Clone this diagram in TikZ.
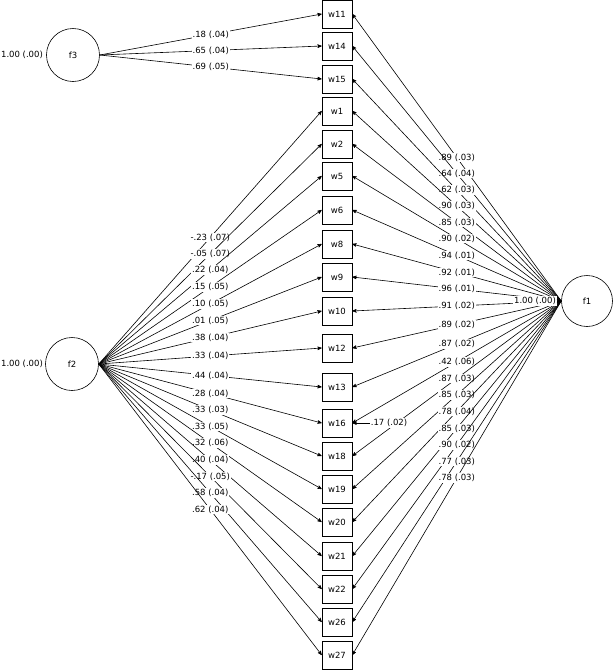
\documentclass[tikz,border=0pt]{standalone}
\usepackage{fontspec}
\setmainfont{DejaVu Sans}
\usepackage{tikz}
\usetikzlibrary{shapes}
\usetikzlibrary{arrows}
\tikzset{
  factor node/.style={circle,draw,minimum size=53pt,inner sep=0pt,font=\fontsize{8.5}{10}\selectfont},
  item node/.style={rectangle,draw,minimum width=30pt,minimum height=28pt,inner sep=0pt,font=\fontsize{8.5}{10}\selectfont},
  est/.style={fill=white,inner sep=1pt,font=\fontsize{8.5}{10}\selectfont}
}

\begin{document}
\begin{tikzpicture}[->,>=stealth',semithick,x=1pt,y=-1pt]
    \useasboundingbox (0,0) rectangle (615,670);
    \node [factor node] (f3) at (73,55) {f3};
    \node [factor node] (f2) at (72,364) {f2};
    \node [factor node,minimum size=51pt] (f1) at (587,301) {f1};
    \node [est] (f3var) at (22,55) {1.00 (.00)};
    \node [est] (f2var) at (22,364) {1.00 (.00)};
    % indicators
    \foreach \w/\y in {11/14,14/46,15/79,1/111,2/144,5/176,6/210,8/244,9/277,10/311,
                       12/348,13/387,16/423,18/456,19/489,20/522,21/556,22/589,26/622,27/655}
      \node [item node] (w\w) at (337,\y) {w\w};
    % f3 loadings
    \foreach \w/\lab in {11/.18 (.04),14/.65 (.04),15/.69 (.05)}
      \draw (f3.east) -- node [est] {\lab} (w\w.west);
    % f2 loadings
    \foreach \w/\lab in {1/-.23 (.07),2/-.05 (.07),5/.22 (.04),6/.15 (.05),8/.10 (.05),
                         9/.01 (.05),10/.38 (.04),12/.33 (.04),13/.44 (.04),16/.28 (.04),
                         18/.33 (.03),19/.33 (.05),20/.32 (.06),21/.40 (.04),22/-.17 (.05),
                         26/.58 (.04),27/.62 (.04)}
      \draw (f2.east) -- node [est] {\lab} (w\w.west);
    % f1 loadings
    \foreach \w/\lab in {11/.89 (.03),14/.64 (.04),15/.62 (.03),1/.90 (.03),2/.85 (.03),
                         5/.90 (.02),6/.94 (.01),8/.92 (.01),9/.96 (.01),10/.91 (.02),
                         12/.89 (.02),13/.87 (.02),16/.42 (.06),18/.87 (.03),19/.85 (.03),
                         20/.78 (.04),21/.85 (.03),22/.90 (.02),26/.77 (.03),27/.78 (.03)}
      \draw (f1.west) -- node [est] {\lab} (w\w.east);
    \node [est] (f1var) at (535,301) {1.00 (.00)};
    \draw (f1var) -- (f1);
    \node [est] (e16) at (389,423) {.17 (.02)};
    \draw (e16) -- (w16.east);
\end{tikzpicture}
\end{document}
